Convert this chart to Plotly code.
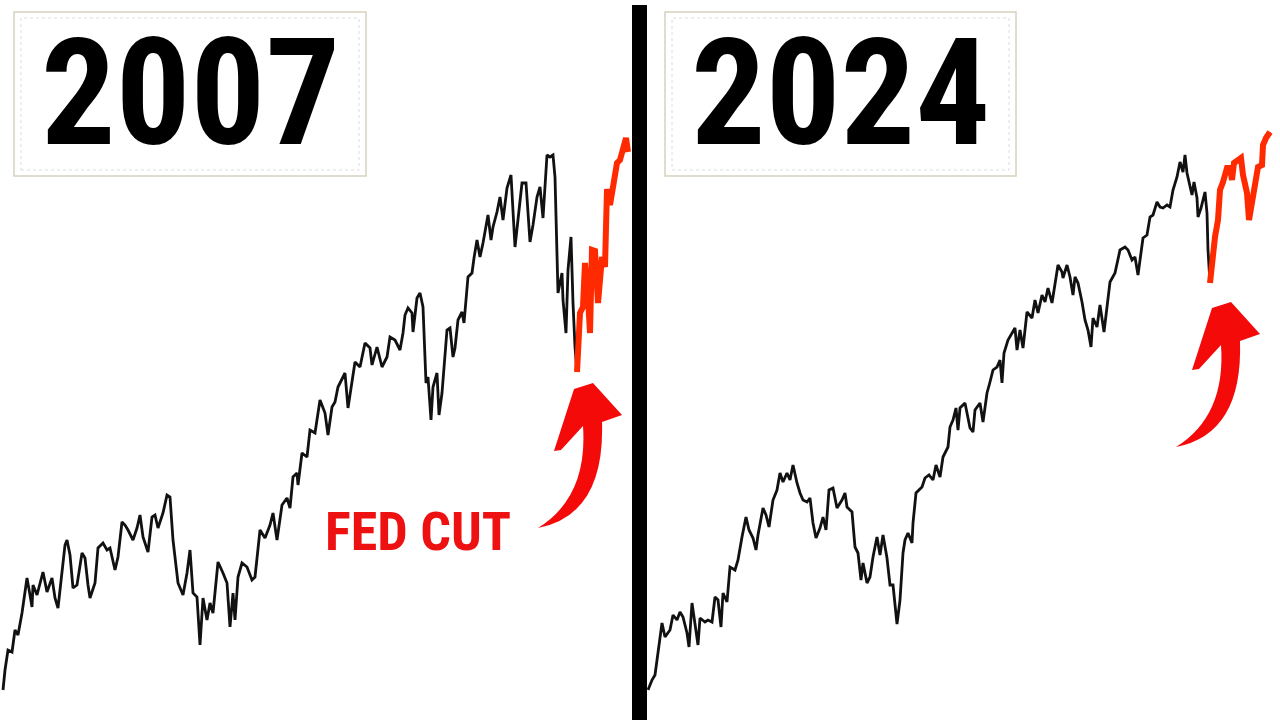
import plotly.graph_objects as go

W, H = 1280, 720

# ---- 2007 panel (trading-day index, index level) ----
left_day = [
    3, 5, 8, 12, 15, 18, 22, 27, 30, 32,
    33, 37, 43, 47, 52, 55, 58, 62, 65, 67,
    70, 73, 77, 82, 85, 88, 90, 95, 98, 103,
    107, 110, 115, 118, 122, 125, 128, 133, 137, 140,
    143, 148, 152, 155, 158, 163, 167, 170, 173, 178,
    183, 187, 190, 193, 197, 200, 203, 207, 210, 213,
    218, 223, 227, 230, 233, 235, 238, 242, 247, 252,
    255, 260, 265, 270, 273, 277, 282, 287, 290, 293,
    297, 298, 302, 307, 310, 315, 320, 325, 328, 332,
    335, 338, 345, 348, 352, 355, 360, 365, 370, 372,
    377, 382, 387, 390, 395, 400, 403, 405, 408, 412,
    413, 417, 420, 423, 426, 428, 431, 433, 437, 439,
    442, 447, 450, 453, 455, 458, 462, 464, 468, 472,
    474, 477, 480, 483, 488, 491, 493, 497, 500, 503,
    507, 511, 515, 518, 522, 526, 530, 533, 537, 540,
    543, 547, 550, 553, 555, 558, 562, 563, 566, 568,
    571, 573, 575, 577,
]
left_level = [
    30, 50, 70, 68, 90, 85, 107, 142, 125, 113,
    135, 125, 148, 128, 142, 122, 112, 150, 175, 180,
    165, 132, 135, 167, 162, 135, 122, 137, 172, 177,
    170, 172, 150, 163, 198, 195, 190, 180, 192, 205,
    183, 168, 203, 205, 192, 207, 225, 223, 180, 137,
    125, 147, 170, 127, 123, 75, 122, 100, 117, 107,
    158, 147, 137, 93, 127, 100, 143, 157, 153, 140,
    143, 190, 182, 195, 207, 180, 215, 222, 212, 243,
    247, 235, 267, 263, 290, 287, 320, 307, 285, 313,
    318, 333, 347, 312, 337, 358, 353, 377, 372, 355,
    373, 353, 363, 383, 380, 370, 387, 405, 412, 407,
    388, 422, 427, 413, 337, 343, 300, 333, 347, 305,
    327, 390, 392, 363, 372, 400, 408, 397, 443, 447,
    462, 480, 463, 477, 505, 480, 493, 508, 523, 500,
    532, 545, 473, 500, 537, 537, 478, 495, 523, 533,
    502, 565, 563, 565, 543, 427, 447, 420, 387, 450,
    483, 417, 373, 348,
]
left_cut_day = [577, 580, 583, 585, 588, 590, 592, 595, 598, 602,
                605, 607, 610, 614, 617, 620, 623, 626, 628]
left_cut_level = [348, 407, 413, 457, 422, 387, 470, 469, 417, 463,
                  453, 531, 515, 537, 557, 560, 570, 582, 568]

# ---- 2024 panel ----
right_day = [
    1, 5, 8, 11, 15, 18, 23, 26, 30, 33,
    36, 40, 42, 45, 48, 51, 53, 58, 61, 65,
    68, 71, 74, 76, 80, 83, 88, 91, 95, 99,
    102, 106, 109, 111, 116, 119, 122, 126, 130, 133,
    136, 140, 143, 146, 150, 153, 156, 160, 163, 166,
    169, 173, 176, 179, 182, 186, 190, 195, 198, 200,
    205, 208, 211, 214, 216, 220, 223, 226, 230, 233,
    236, 240, 243, 246, 250, 253, 256, 258, 261, 265,
    266, 269, 275, 278, 282, 286, 289, 293, 296, 301,
    303, 306, 309, 311, 313, 318, 323, 326, 328, 333,
    336, 340, 343, 346, 350, 353, 355, 357, 361, 365,
    368, 370, 373, 376, 380, 385, 388, 391, 395, 398,
    401, 405, 408, 411, 415, 416, 420, 423, 426, 428,
    431, 435, 438, 441, 444, 446, 450, 453, 457, 460,
    463, 468, 473, 478, 481, 485, 488, 491, 493, 496,
    500, 503, 506, 510, 513, 516, 520, 523, 526, 530,
    533, 536, 538, 540, 545, 547, 550, 551, 554, 556,
    558, 560, 561, 563,
]
right_level = [
    30, 40, 45, 67, 97, 83, 90, 105, 100, 108,
    103, 87, 73, 117, 93, 75, 102, 98, 100, 98,
    123, 120, 93, 127, 118, 153, 150, 160, 183, 203,
    190, 182, 170, 185, 212, 205, 193, 220, 230, 247,
    238, 247, 240, 255, 237, 227, 220, 218, 222, 197,
    182, 192, 203, 190, 230, 232, 212, 220, 227, 213,
    208, 173, 167, 140, 157, 137, 143, 163, 183, 165,
    185, 162, 135, 135, 96, 120, 167, 180, 187, 177,
    197, 227, 233, 242, 245, 240, 255, 243, 263, 273,
    293, 300, 312, 290, 312, 317, 292, 288, 310, 317,
    298, 327, 338, 350, 353, 360, 337, 367, 380, 387,
    392, 370, 390, 372, 408, 402, 420, 407, 425, 418,
    432, 417, 437, 455, 448, 442, 455, 443, 425, 443,
    437, 418, 400, 390, 373, 402, 393, 415, 388, 413,
    438, 447, 470, 473, 470, 460, 463, 445, 458, 482,
    485, 503, 505, 518, 513, 512, 515, 513, 530, 543,
    558, 548, 565, 547, 525, 538, 522, 503, 512, 520,
    528, 507, 470, 437,
]
right_cut_day = [563, 566, 568, 571, 573, 576, 580, 583, 585, 587, 591,
                 594, 596, 600, 602, 605, 608, 611, 615, 616, 619, 623]
right_cut_level = [437, 467, 483, 500, 530, 538, 552, 552, 540, 557, 560,
                   562, 545, 527, 500, 517, 540, 553, 555, 575, 582, 588]

titles = ["2007", "2024"]
callout = "FED CUT"

BLACK = "#111111"
CUT_RED = "#ff2a00"
ARROW_RED = "#f50a0a"
NARROW = "Roboto Condensed, Roboto, sans-serif"


def px(x, y):
    """pixel position -> paper coords"""
    return x / W, 1 - y / H


def arrow_path(dx=0, dy=0):
    pts = dict(
        tail=(538, 528), c1=(605, 515), neck_r=(602, 422), barb_r=(622, 415),
        top_r=(593, 383), top_l=(574, 389), barb_l=(554, 451), barb_l2=(561, 450),
        neck_l=(583, 426), c2=(588, 497),
    )
    p = {k: px(v[0] + dx, v[1] + dy) for k, v in pts.items()}
    f = lambda k: f"{p[k][0]:.5f},{p[k][1]:.5f}"
    return (f"M {f('tail')} Q {f('c1')} {f('neck_r')} L {f('barb_r')} "
            f"L {f('top_r')} L {f('top_l')} L {f('barb_l')} L {f('barb_l2')} "
            f"L {f('neck_l')} Q {f('c2')} {f('tail')} Z")


fig = go.Figure()

fig.add_trace(go.Scatter(x=left_day, y=left_level, mode="lines",
                         line=dict(color=BLACK, width=2.8), xaxis="x", yaxis="y"))
fig.add_trace(go.Scatter(x=left_cut_day, y=left_cut_level, mode="lines",
                         line=dict(color=CUT_RED, width=6), xaxis="x", yaxis="y"))
fig.add_trace(go.Scatter(x=right_day, y=right_level, mode="lines",
                         line=dict(color=BLACK, width=2.8), xaxis="x2", yaxis="y2"))
fig.add_trace(go.Scatter(x=right_cut_day, y=right_cut_level, mode="lines",
                         line=dict(color=CUT_RED, width=6), xaxis="x2", yaxis="y2"))

axis_off = dict(visible=False, showgrid=False, zeroline=False, fixedrange=True)
fig.update_layout(
    width=W, height=H,
    margin=dict(l=0, r=0, t=0, b=0),
    paper_bgcolor="white", plot_bgcolor="white",
    showlegend=False,
    xaxis=dict(domain=[0, 632 / W], range=[0, 632], **axis_off),
    yaxis=dict(domain=[0, 1], range=[0, 720], **axis_off),
    xaxis2=dict(domain=[647 / W, 1], range=[0, 633], anchor="y2", **axis_off),
    yaxis2=dict(domain=[0, 1], range=[0, 720], anchor="x2", **axis_off),
)

shapes = []
# divider
x0, y0 = px(632, 720)
x1, y1 = px(647, 5)
shapes.append(dict(type="rect", xref="paper", yref="paper", x0=x0, x1=x1, y0=y0, y1=y1,
                   fillcolor="black", line=dict(width=0)))
# title boxes
for (bx0, by0, bx1, by1) in [(14, 12, 366, 176), (665, 12, 1016, 176)]:
    a0, b0 = px(bx0, by1)
    a1, b1 = px(bx1, by0)
    shapes.append(dict(type="rect", xref="paper", yref="paper", x0=a0, x1=a1, y0=b0, y1=b1,
                       fillcolor="white", line=dict(color="#d6d2c0", width=1.5)))
    a0, b0 = px(bx0 + 7, by1 - 6)
    a1, b1 = px(bx1 - 7, by0 + 6)
    shapes.append(dict(type="rect", xref="paper", yref="paper", x0=a0, x1=a1, y0=b0, y1=b1,
                       line=dict(color="#dcdcdc", width=1, dash="dot")))
# curved arrows
shapes.append(dict(type="path", xref="paper", yref="paper", path=arrow_path(),
                   fillcolor=ARROW_RED, line=dict(width=0)))
shapes.append(dict(type="path", xref="paper", yref="paper", path=arrow_path(638, -81),
                   fillcolor=ARROW_RED, line=dict(width=0)))
fig.update_layout(shapes=shapes)

title_font = dict(family=NARROW, size=148, color="black", weight="bold")
for text, cx in zip(titles, [190, 840]):
    ax, ay = px(cx, 94)
    fig.add_annotation(text=text, x=ax, y=ay, xref="paper", yref="paper",
                       xanchor="center", yanchor="middle", showarrow=False, font=title_font)

ax, ay = px(418, 531)
fig.add_annotation(text=callout, x=ax, y=ay, xref="paper", yref="paper",
                   xanchor="center", yanchor="middle", showarrow=False,
                   font=dict(family=NARROW, size=54, color="#ee1111", weight="bold"))

# drop the browser's default page margin so the figure sits at the top-left corner
fig.write_html("out.html", config={"displayModeBar": False},
               post_script="document.body.style.margin='0';")
